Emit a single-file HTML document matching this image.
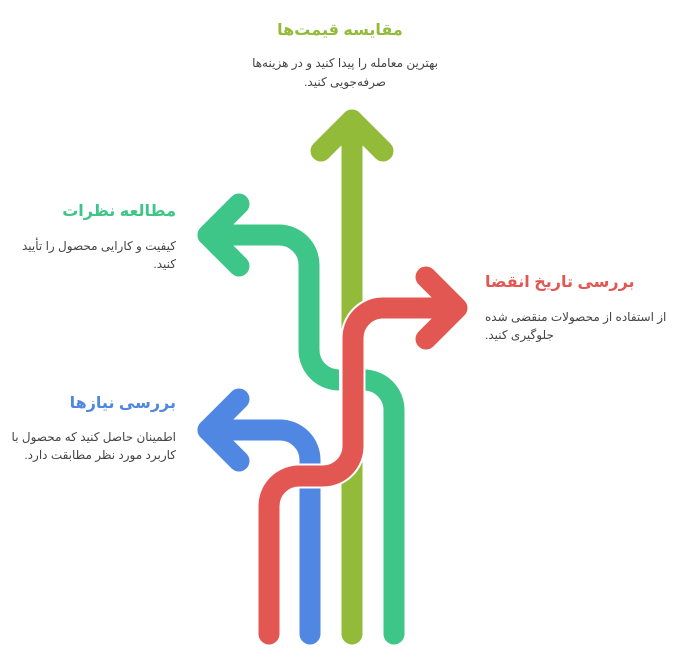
<!DOCTYPE html>
<html><head><meta charset="utf-8"><style>
body{margin:0;width:681px;height:663px;background:#fff;position:relative;overflow:hidden;font-family:"Liberation Sans","DejaVu Sans",sans-serif;}
.t{position:absolute;white-space:nowrap;direction:rtl;line-height:18px}
.h{font-weight:bold;font-size:16px}
.d{font-size:12px;color:#444}
</style></head><body>
<svg width="681" height="663" style="position:absolute;left:0;top:0" fill="none" stroke-linecap="round" stroke-linejoin="round">
<g stroke-width="21">
<path d="M394 634 V410 A30 30 0 0 0 364 380 H339 A30 30 0 0 1 309 350 V265 A30 30 0 0 0 279 235 H208" stroke="#3ec688"/>
<path d="M239 204 L208 235 L239 266" stroke="#3ec688"/>
<path d="M310 634 V460 A30 30 0 0 0 280 430 H208" stroke="#4f87e3"/>
<path d="M239 399 L208 430 L239 461" stroke="#4f87e3"/>
</g>
<path d="M352 634 V120" stroke="#fff" stroke-width="26" stroke-linecap="butt"/>
<g stroke-width="21">
<path d="M352 634 V120" stroke="#93bb3a"/>
<path d="M321 151 L352 120 L383 151" stroke="#93bb3a"/>
</g>
<path d="M269 634 V506 A30 30 0 0 1 299 476 H323 A30 30 0 0 0 353 446 V338 A30 30 0 0 1 383 308 H455" stroke="#fff" stroke-width="25"/>
<g stroke-width="21">
<path d="M269 634 V506 A30 30 0 0 1 299 476 H323 A30 30 0 0 0 353 446 V338 A30 30 0 0 1 383 308 H455" stroke="#e35752"/>
<path d="M426 277 L457 308 L426 339" stroke="#e35752"/>
</g>
</svg>
<div class="t h" style="left:270px;width:140px;text-align:center;top:22px;color:#93bb3a">مقایسه قیمت‌ها</div>
<div class="t d" style="left:240px;width:210px;text-align:center;top:54px">بهترین معامله را پیدا کنید و در هزینه‌ها</div>
<div class="t d" style="left:240px;width:210px;text-align:center;top:73px">صرفه‌جویی کنید.</div>

<div class="t h" style="right:505px;top:203px;color:#3ec688">مطالعه نظرات</div>
<div class="t d" style="right:505px;top:237px">کیفیت و کارایی محصول را تأیید</div>
<div class="t d" style="right:505px;top:255px">کنید.</div>

<div class="t h" style="left:485px;top:274px;color:#e35752">بررسی تاریخ انقضا</div>
<div class="t d" style="left:485px;top:308px">از استفاده از محصولات منقضی شده</div>
<div class="t d" style="left:485px;top:326px">جلوگیری کنید.</div>

<div class="t h" style="right:505px;top:395px;color:#4f87e3">بررسی نیازها</div>
<div class="t d" style="right:505px;top:428px">اطمینان حاصل کنید که محصول با</div>
<div class="t d" style="right:505px;top:446px">کاربرد مورد نظر مطابقت دارد.</div>
</body></html>
